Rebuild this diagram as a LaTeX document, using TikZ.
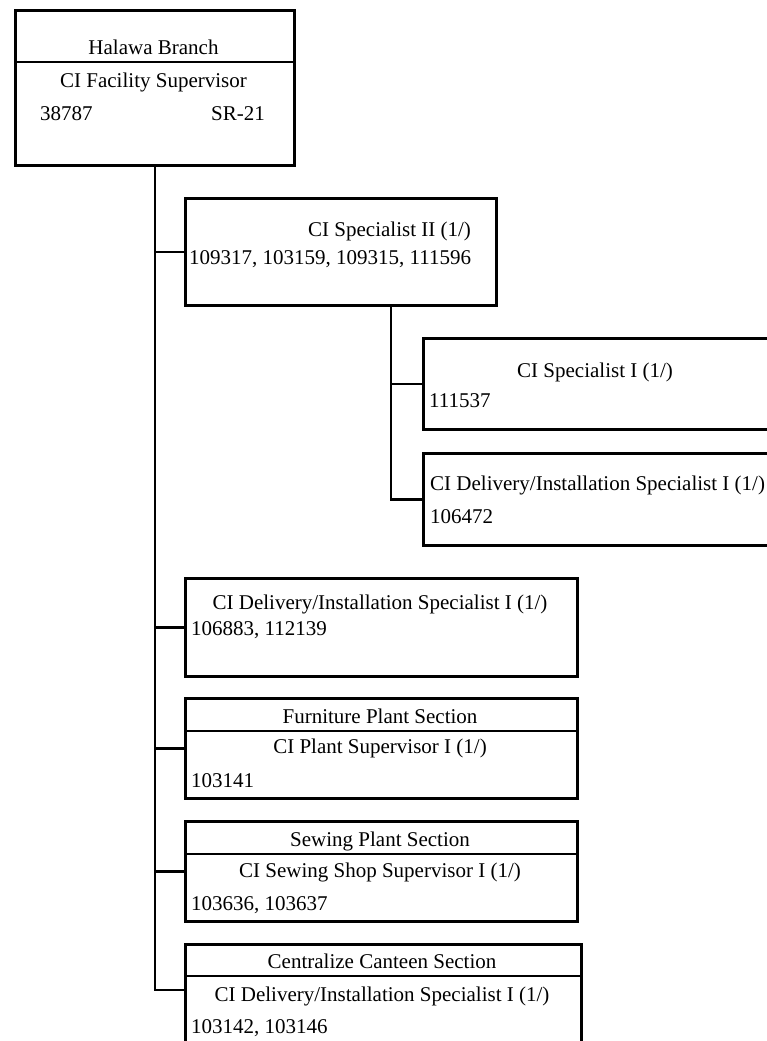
\documentclass[tikz,border=0pt]{standalone}
\usepackage{fontspec}
\setmainfont{Liberation Serif}
\begin{document}
\begin{tikzpicture}[x=1pt,y=-1pt,
  box/.style={draw, line width=3pt, anchor=north west, inner sep=0pt},
  txt/.style={inner sep=0pt, anchor=base, font=\fontsize{21}{25}\selectfont},
  conn/.style={line width=2.4pt}]
\useasboundingbox (0,0) rectangle (766,1041);
% boxes
\node[box, minimum width=279pt, minimum height=155pt] (b1) at (14,9) {};
\node[box, minimum width=311pt, minimum height=107pt] (b2) at (184,197) {};
\node[box, minimum width=380pt, minimum height=91pt] (b3) at (422,337) {};
\node[box, minimum width=380pt, minimum height=92pt] (b4) at (422,452) {};
\node[box, minimum width=392pt, minimum height=98pt] (b5) at (184,577) {};
\node[box, minimum width=392pt, minimum height=100pt] (b6) at (184,697) {};
\node[box, minimum width=392pt, minimum height=100pt] (b7) at (184,820) {};
\node[box, minimum width=396pt, minimum height=120pt] (b8) at (184,943) {};
\foreach \b/\y in {b1/62, b6/731, b7/854, b8/976}
\draw[line width=2.6pt] (\b.west |- 0,\y) -- (\b.east |- 0,\y);
% connectors
\coordinate (b8c) at (184,990);
\coordinate (b2s) at (391,304);
\draw[conn] (b1.south) -- (b1.south |- b8c) -- (b8c);
\foreach \b in {b2,b5,b6,b7}
\draw[conn] (b1.south |- \b.west) -- (\b.west);
\draw[conn] (b2s) -- (b2s |- b4.west) -- (b4.west);
\draw[conn] (b2s |- b3.west) -- (b3.west);
% texts
\node[txt] (t1a) at (153.5,55) {Halawa Branch};
\node[txt] (t1b) at (153.5,87) {CI Facility Supervisor};
\node[txt, anchor=base west] (t1c) at (40,120) {38787};
\node[txt, anchor=base east] (t1d) at (265,120) {SR-21};
\node[txt, anchor=base west] (t2a) at (308,236) {CI Specialist II (1/)};
\node[txt, anchor=base west] (t2b) at (189,264) {109317, 103159, 109315, 111596};
\node[txt, anchor=base west] (t3a) at (517,377) {CI Specialist I (1/)};
\node[txt, anchor=base west] (t3b) at (429,407) {111537};
\node[txt, anchor=base west] (t4a) at (430,490) {CI Delivery/Installation Specialist I (1/)};
\node[txt, anchor=base west] (t4b) at (430,523) {106472};
\node[txt] (t5a) at (380,609) {CI Delivery/Installation Specialist I (1/)};
\node[txt, anchor=base west] (t5b) at (191,635) {106883, 112139};
\node[txt] (t6a) at (380,723) {Furniture Plant Section};
\node[txt] (t6b) at (380,753) {CI Plant Supervisor I (1/)};
\node[txt, anchor=base west] (t6c) at (191,787) {103141};
\node[txt] (t7a) at (380,846) {Sewing Plant Section};
\node[txt] (t7b) at (380,877) {CI Sewing Shop Supervisor I (1/)};
\node[txt, anchor=base west] (t7c) at (191,910) {103636, 103637};
\node[txt] (t8a) at (382,968) {Centralize Canteen Section};
\node[txt] (t8b) at (382,1001) {CI Delivery/Installation Specialist I (1/)};
\node[txt, anchor=base west] (t8c) at (191,1033) {103142, 103146};
\end{tikzpicture}
\end{document}
